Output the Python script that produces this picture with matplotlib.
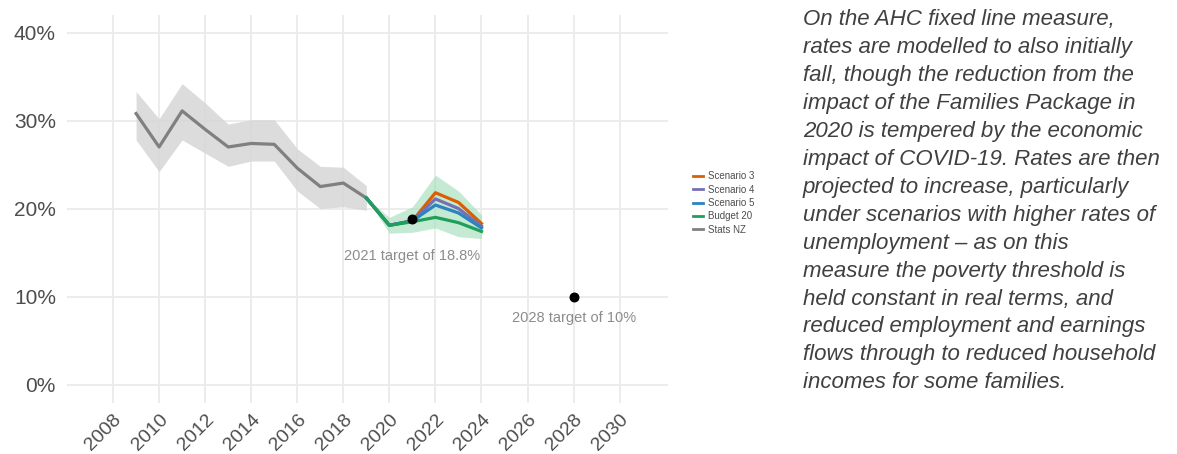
import matplotlib
matplotlib.use("Agg")
import matplotlib.pyplot as plt
from matplotlib.lines import Line2D

plt.rcParams['font.family'] = ['Liberation Sans', 'DejaVu Sans']

# Stats NZ history (percent)
stats_years = [2009, 2010, 2011, 2012, 2013, 2014, 2015, 2016, 2017, 2018, 2019]
stats_rate = [30.8, 27.0, 31.1, 29.0, 27.0, 27.4, 27.3, 24.6, 22.5, 22.9, 21.2]
stats_low = [27.8, 24.2, 27.8, 26.3, 24.8, 25.4, 25.4, 22.0, 20.0, 20.2, 19.8]
stats_high = [33.3, 30.2, 34.2, 32.0, 29.6, 30.1, 30.1, 26.8, 24.8, 24.7, 22.6]

# projections
proj_years = [2019, 2020, 2021, 2022, 2023, 2024]
scenario3 = [21.2, 18.1, 18.6, 21.8, 20.7, 18.3]
scenario4 = [21.2, 18.1, 18.6, 21.1, 20.0, 18.0]
scenario5 = [21.2, 18.1, 18.6, 20.4, 19.5, 17.8]
budget20 = [21.2, 18.1, 18.5, 19.0, 18.4, 17.4]
budget_low = [21.2, 17.2, 17.3, 17.8, 16.8, 16.6]
budget_high = [21.2, 19.0, 20.2, 23.8, 22.0, 19.3]

# targets
target_years = [2021, 2028]
target_rates = [18.8, 10.0]
target_labels = ["2021 target of 18.8%", "2028 target of 10%"]

x_ticks = list(range(2008, 2031, 2))
y_ticks = [0, 10, 20, 30, 40]

paragraph = [
    "On the AHC fixed line measure,",
    "rates are modelled to also initially",
    "fall, though the reduction from the",
    "impact of the Families Package in",
    "2020 is tempered by the economic",
    "impact of COVID-19. Rates are then",
    "projected to increase, particularly",
    "under scenarios with higher rates of",
    "unemployment \u2013 as on this",
    "measure the poverty threshold is",
    "held constant in real terms, and",
    "reduced employment and earnings",
    "flows through to reduced household",
    "incomes for some families.",
]

col_s3 = "#D95F02"
col_s4 = "#7570B3"
col_s5 = "#2C84BE"
col_b20 = "#1FA05A"
col_nz = "#808080"

W, H = 1177, 454
fig = plt.figure(figsize=(W / 100, H / 100), dpi=100)
ax = fig.add_axes([67 / W, 1 - 403 / H, (668 - 67) / W, (403 - 15) / H])

# bands
ax.fill_between(stats_years, stats_low, stats_high, color="#D6D6D6", alpha=0.85, lw=0, zorder=2)
ax.fill_between(proj_years, budget_low, budget_high, color="#9FDDB8", alpha=0.6, lw=0, zorder=2)

# lines
lw = 2.3
ax.plot(stats_years, stats_rate, color=col_nz, lw=lw, zorder=3)
ax.plot(proj_years, scenario3, color=col_s3, lw=lw, zorder=4)
ax.plot(proj_years, scenario4, color=col_s4, lw=lw, zorder=4)
ax.plot(proj_years, scenario5, color=col_s5, lw=lw, zorder=4)
ax.plot(proj_years, budget20, color=col_b20, lw=lw, zorder=5)

# targets
ax.scatter(target_years, target_rates, s=38, color="black", zorder=6)
for yr, rate, lab in zip(target_years, target_rates, target_labels):
    ax.text(yr, rate - 2.4 - (1.8 if yr == 2021 else 0), lab, ha="center", va="center",
            fontsize=10.5, color="#8C8C8C", zorder=7)

ax.set_xlim(2006.0, 2032.1)
ax.set_ylim(-2.1, 42)
ax.set_xticks(x_ticks)
ax.set_yticks(y_ticks)
ax.set_xticklabels([str(t) for t in x_ticks], rotation=45, ha="right", rotation_mode="anchor")
ax.set_yticklabels(["%d%%" % t for t in y_ticks])
ax.tick_params(axis="both", length=0, labelsize=14, labelcolor="#4D4D4D")
ax.tick_params(axis="y", pad=8, labelsize=15)
ax.tick_params(axis="x", pad=6)
ax.grid(True, color="#EBEBEB", lw=1.3, zorder=0)
ax.set_axisbelow(True)
for s in ax.spines.values():
    s.set_visible(False)

# legend
handles = [Line2D([], [], color=c, lw=2) for c in [col_s3, col_s4, col_s5, col_b20, col_nz]]
labels = ["Scenario 3", "Scenario 4", "Scenario 5", "Budget 20", "Stats NZ"]
fig.legend(handles, labels, loc="center left", bbox_to_anchor=(688 / W, 1 - 203 / H),
           frameon=False, fontsize=7, handlelength=1.0, handletextpad=0.6,
           labelspacing=0.35, labelcolor="#4D4D4D", borderpad=0)

# explanatory text
for i, line in enumerate(paragraph):
    fig.text(803 / W, 1 - (20 + i * 27.9) / H, line, ha="left", va="center",
             fontsize=16, style="italic", color="#404040")

fig.savefig("out.png", dpi=100)
